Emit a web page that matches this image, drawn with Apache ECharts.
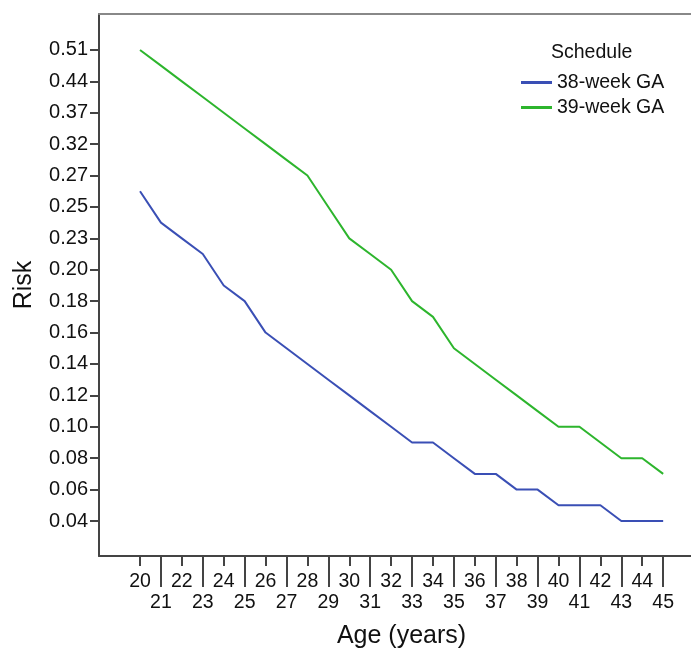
<!DOCTYPE html>
<html><head><meta charset="utf-8">
<script src="https://cdn.jsdelivr.net/npm/echarts@6/dist/echarts.min.js"></script>
<style>html,body{margin:0;padding:0;background:#fff}#c{width:691px;height:650px}</style>
</head><body><div id="c"></div>
<script>
// Ages on the x axis
const ages = [20,21,22,23,24,25,26,27,28,29,30,31,32,33,34,35,36,37,38,39,40,41,42,43,44,45];
// Ordered risk categories of the (ordinal) y axis, bottom to top
const riskLevels = [0.04,0.05,0.06,0.07,0.08,0.09,0.10,0.11,0.12,0.13,0.14,0.15,0.16,0.17,0.18,0.19,0.20,0.22,0.23,0.24,0.25,0.26,0.27,0.29,0.32,0.34,0.37,0.40,0.44,0.47,0.51];
// Labelled ticks on the y axis
const yTickLabels = ['0.04','0.06','0.08','0.10','0.12','0.14','0.16','0.18','0.20','0.23','0.25','0.27','0.32','0.37','0.44','0.51'];
// Labelled ticks on the x axis (two staggered rows)
const xTicksRow1 = [20,22,24,26,28,30,32,34,36,38,40,42,44];
const xTicksRow2 = [21,23,25,27,29,31,33,35,37,39,41,43,45];
// Series
const seriesNames = ['38-week GA','39-week GA'];
const risk38 = [0.26,0.24,0.23,0.22,0.19,0.18,0.16,0.15,0.14,0.13,0.12,0.11,0.10,0.09,0.09,0.08,0.07,0.07,0.06,0.06,0.05,0.05,0.05,0.04,0.04,0.04];
const risk39 = [0.51,0.47,0.44,0.40,0.37,0.34,0.32,0.29,0.27,0.25,0.23,0.22,0.20,0.18,0.17,0.15,0.14,0.13,0.12,0.11,0.10,0.10,0.09,0.08,0.08,0.07];

const FONT = "'Liberation Sans', Arial, sans-serif";
const rank = v => riskLevels.findIndex(r => Math.abs(r - v) < 1e-9);
const yTickRanks = yTickLabels.map(s => rank(parseFloat(s)));

const xMin = 18.04, xMax = 46.33;
const yMin = -2.23, yMax = 32.29;
const AX = '#444';
const COLORS = ['#3a4fb5', '#2db52d'];

const chart = echarts.init(document.getElementById('c'), null, {renderer:'canvas'});
chart.setOption({
  animation: false,
  backgroundColor: '#fff',
  grid: {left: 99, top: 14, right: 0, bottom: 94, outerBoundsMode: 'none', containLabel: false},
  title: {text: 'Schedule', left: 551, top: 43, padding: 0,
    textStyle: {fontFamily: FONT, fontSize: 19.5, fontWeight: 'normal', color: '#111'}},
  legend: {orient: 'vertical', left: 521, top: 72.5, padding: 0,
    itemWidth: 31, itemHeight: 3, itemGap: 5,
    textStyle: {fontFamily: FONT, fontSize: 19.5, color: '#111'},
    data: seriesNames.map(n => ({name: n, icon: 'rect'}))},
  xAxis: [
    {type: 'value', min: xMin, max: xMax, position: 'bottom',
      axisLine: {show: true, onZero: false, lineStyle: {color: AX, width: 2}},
      axisTick: {show: true, customValues: xTicksRow1, length: 10, lineStyle: {color: AX, width: 2}},
      axisLabel: {customValues: xTicksRow1, margin: 16, fontFamily: FONT, fontSize: 19.5, color: '#111'},
      splitLine: {show: false},
      name: 'Age (years)', nameLocation: 'middle', nameGap: 68,
      nameTextStyle: {fontFamily: FONT, fontSize: 25, color: '#111', padding: [0,0,0,13]}},
    {type: 'value', min: xMin, max: xMax, position: 'bottom',
      axisLine: {show: false, onZero: false},
      axisTick: {show: true, customValues: xTicksRow2, length: 31, lineStyle: {color: AX, width: 2}},
      axisLabel: {customValues: xTicksRow2, margin: 37, fontFamily: FONT, fontSize: 19.5, color: '#111'},
      splitLine: {show: false}},
    {type: 'value', min: xMin, max: xMax, position: 'top',
      axisLine: {show: true, onZero: false, lineStyle: {color: '#888', width: 2}},
      axisTick: {show: false}, axisLabel: {show: false}, splitLine: {show: false}}
  ],
  yAxis: {type: 'value', min: yMin, max: yMax,
    axisLine: {show: true, onZero: false, lineStyle: {color: AX, width: 2}},
    axisTick: {show: true, customValues: yTickRanks, length: 9, lineStyle: {color: AX, width: 2}},
    axisLabel: {customValues: yTickRanks, margin: 11, fontFamily: FONT, fontSize: 20, color: '#111',
      formatter: v => riskLevels[Math.round(v)].toFixed(2)},
    splitLine: {show: false},
    name: 'Risk', nameLocation: 'middle', nameGap: 62,
    nameTextStyle: {fontFamily: FONT, fontSize: 25, color: '#111'}},
  series: [
    {type: 'line', name: seriesNames[0], xAxisIndex: 0, symbol: 'none',
      data: ages.map((a, i) => [a, rank(risk38[i])]),
      lineStyle: {color: COLORS[0], width: 2}, itemStyle: {color: COLORS[0]}},
    {type: 'line', name: seriesNames[1], xAxisIndex: 0, symbol: 'none',
      data: ages.map((a, i) => [a, rank(risk39[i])]),
      lineStyle: {color: COLORS[1], width: 2}, itemStyle: {color: COLORS[1]}}
  ]
});
</script></body></html>
